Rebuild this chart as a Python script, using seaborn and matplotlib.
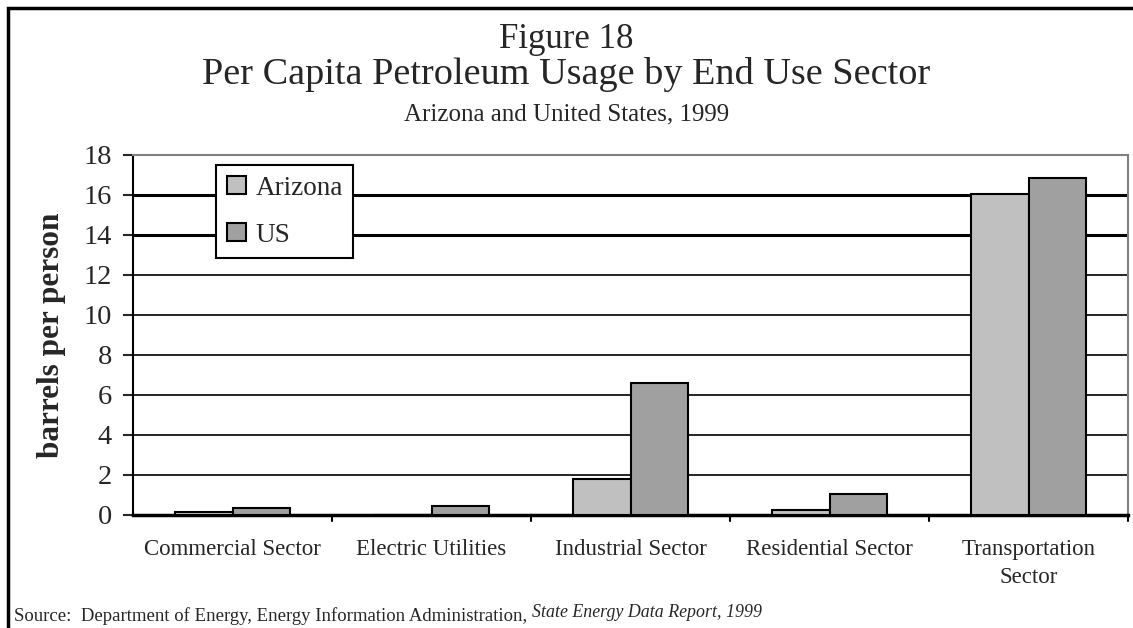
import pandas as pd
import seaborn as sns
import matplotlib.pyplot as plt
from matplotlib.patches import Rectangle

sectors = ['Commercial Sector', 'Electric Utilities', 'Industrial Sector',
           'Residential Sector', 'Transportation\nSector']
arizona = [0.15, 0.0, 1.8, 0.25, 16.05]
us = [0.35, 0.45, 6.6, 1.05, 16.85]

df = pd.DataFrame({
    'sector': sectors * 2,
    'value': arizona + us,
    'region': ['Arizona'] * 5 + ['US'] * 5,
})

W, H = 1133, 628

sns.set_style('white')
plt.rcParams['font.family'] = ['Liberation Serif', 'DejaVu Serif']

fig = plt.figure(figsize=(W / 100, H / 100), dpi=100)
ax = fig.add_axes([133 / W, 1 - 515 / H, 995 / W, 360 / H])

sns.barplot(data=df, x='sector', y='value', hue='region',
            palette=['#c0c0c0', '#a0a0a0'], edgecolor='black', linewidth=1.5,
            width=0.58, saturation=1, ax=ax, zorder=3)

ax.set_ylim(0, 18)
ax.set_xlim(-0.5, 4.5)
ax.set_yticks(range(0, 19, 2))
ax.tick_params(axis='y', labelsize=20.5, length=7, width=1.5, pad=8, left=True)
ax.tick_params(axis='x', labelsize=16.5, length=0, pad=17)
for lbl in ax.get_xticklabels():
    lbl.set_linespacing(1.45)
# tick marks between categories
for x in [0.5, 1.5, 2.5, 3.5, 4.5]:
    ax.plot([x, x], [0, -0.3], color='black', lw=1.5, clip_on=False)
ax.yaxis.grid(True, color='black', lw=1.2)
# the 14 and 16 lines come out heavier in the original
for val, gl in zip(ax.get_yticks(), ax.get_ygridlines()):
    if val in (14, 16):
        gl.set_linewidth(2.2)
ax.set_axisbelow(True)
ax.set_xlabel('')
ax.set_ylabel('barrels per person', fontsize=22.5, fontweight='bold')
ax.yaxis.set_label_coords(-0.067, 0.5)

for side in ['top', 'right']:
    ax.spines[side].set_color('#808080')
    ax.spines[side].set_linewidth(1.5)
ax.spines['left'].set_color('black')
ax.spines['left'].set_linewidth(1.5)
ax.spines['bottom'].set_color('black')
ax.spines['bottom'].set_linewidth(2.5)

leg = ax.legend(loc='upper left', bbox_to_anchor=(83 / 995, 0.972), fontsize=19.5,
                frameon=True, fancybox=False, edgecolor='black', framealpha=1,
                handlelength=0.7, handleheight=0.65, handletextpad=0.35,
                labelspacing=0.8, borderpad=0.4, borderaxespad=0)
leg.get_frame().set_linewidth(1.5)

fig.text(0.5, 1 - 48 / H, 'Figure 18', ha='center', va='baseline', fontsize=25)
fig.text(0.5, 1 - 84 / H, 'Per Capita Petroleum Usage by End Use Sector',
         ha='center', va='baseline', fontsize=27.5)
fig.text(0.5, 1 - 120 / H, 'Arizona and United States, 1999',
         ha='center', va='baseline', fontsize=18)

# source line: plain part, then raised italic title
src = fig.text(14 / W, 1 - 621 / H,
               'Source:  Department of Energy, Energy Information Administration, ',
               ha='left', va='baseline', fontsize=11)
fig.canvas.draw()
bb = src.get_window_extent()
src.set_fontsize(11 * (532 - 14) / bb.width)
fig.canvas.draw()
bb = src.get_window_extent()
fig.text(bb.x1 / W, 1 - 617 / H, 'State Energy Data Report, 1999',
         ha='left', va='baseline', fontsize=src.get_fontsize() * 0.95, style='italic')

fig.patches.append(Rectangle((7.5 / W, -0.1), 1.2, 1.1 - 8 / H,
                             transform=fig.transFigure, fill=False,
                             edgecolor='black', lw=2.5))

fig.savefig('out.png', dpi=100)
